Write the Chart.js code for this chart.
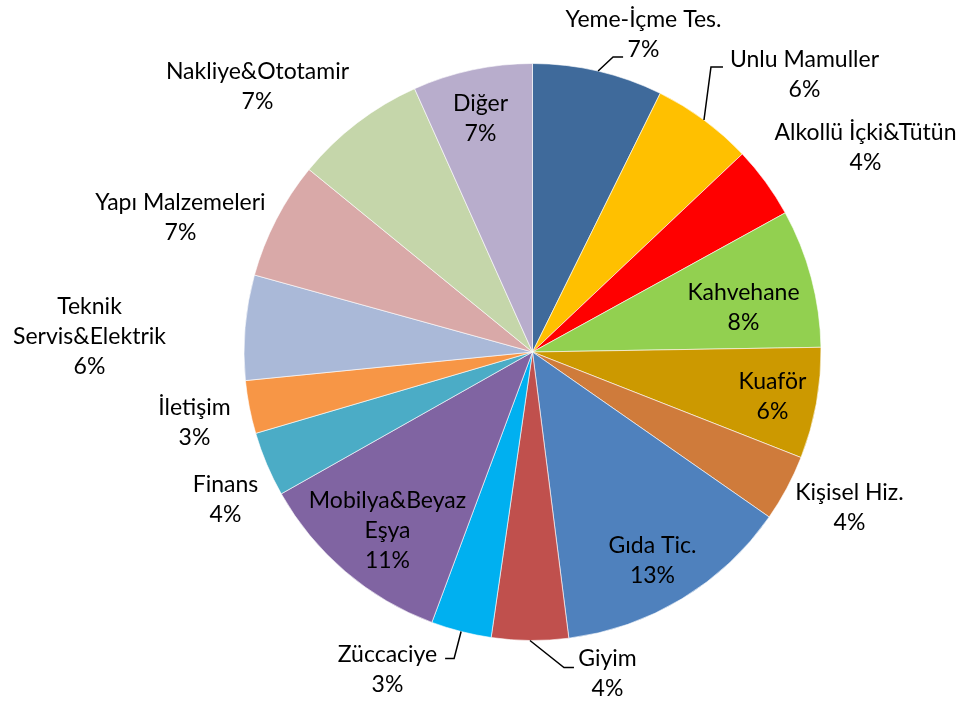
<!DOCTYPE html>
<html>
<head>
<meta charset="utf-8">
<script src="https://cdn.jsdelivr.net/npm/chart.js@4.4.0/dist/chart.umd.min.js"></script>
<style>
  html, body { margin: 0; padding: 0; background: #fff; }
  #wrap { width: 965px; height: 701px; }
</style>
</head>
<body>
<div id="wrap"><canvas id="chart" width="965" height="701"></canvas></div>
<script>
// sectors, clockwise from 12 o'clock
const categories = [
  'Yeme-İçme Tes.', 'Unlu Mamuller', 'Alkollü İçki&Tütün', 'Kahvehane', 'Kuaför',
  'Kişisel Hiz.', 'Gıda Tic.', 'Giyim', 'Züccaciye', 'Mobilya&Beyaz\nEşya',
  'Finans', 'İletişim', 'Teknik\nServis&Elektrik', 'Yapı Malzemeleri',
  'Nakliye&Ototamir', 'Diğer'
];
// share of each sector (%)
const shares = [7.3, 5.66, 4.03, 7.75, 6.22, 3.73, 13.3, 4.3, 3.38, 11.15, 3.63, 2.97, 5.88, 6.6, 7.4, 6.7];

const sliceColors = [
  '#3F6A9B', '#FFC000', '#FF0000', '#92D050', '#CC9900', '#CF7B3B', '#4F81BD', '#C0504D',
  '#00B0F0', '#8064A2', '#4BACC6', '#F79646', '#AAB9D8', '#D9A9A8', '#C5D6AA', '#B8ADCC'
];

// label block centre, relative to the pie centre
const labelOffsets = [
  [111, -317], [272, -277], [333, -204], [211, -44], [240, 45], [317, 156],
  [120, 209], [75, 322], [-145, 318], [-145, 179], [-307, 148], [-338, 71],
  [-443, -15], [-352, -134], [-275, -265], [-52, -233]
];
// leader lines: [elbow dx, elbow dy, horizontal run] from the slice edge
const leaders = {0: [15, -14, 10], 1: [7, -53, 12], 7: [34, 27, 10], 8: [-7, 27, -9]};

const FONT = '23px Lato';
const LINE_H = 30;

const sliceLabels = {
  id: 'sliceLabels',
  afterDatasetsDraw(chart) {
    const ctx = chart.ctx;
    const meta = chart.getDatasetMeta(0);
    const total = shares.reduce((a, b) => a + b, 0);
    ctx.save();
    ctx.font = FONT;
    ctx.fillStyle = '#000';
    ctx.strokeStyle = '#000';
    ctx.lineWidth = 1.5;
    ctx.textAlign = 'center';
    ctx.textBaseline = 'middle';
    meta.data.forEach((arc, i) => {
      const p = arc.getProps(['x', 'y', 'startAngle', 'endAngle', 'outerRadius'], true);
      const lines = categories[i].split('\n').concat(Math.round(shares[i] / total * 100) + '%');
      const cx = p.x + labelOffsets[i][0];
      const cy = p.y + labelOffsets[i][1];
      const top = cy - (lines.length - 1) * LINE_H / 2;
      lines.forEach((t, k) => ctx.fillText(t, cx, top + k * LINE_H));

      const lead = leaders[i];
      if (lead) {
        const mid = (p.startAngle + p.endAngle) / 2;
        const ax = p.x + Math.cos(mid) * p.outerRadius;
        const ay = p.y + Math.sin(mid) * p.outerRadius;
        ctx.beginPath();
        ctx.moveTo(ax, ay);
        ctx.lineTo(ax + lead[0], ay + lead[1]);
        ctx.lineTo(ax + lead[0] + lead[2], ay + lead[1]);
        ctx.stroke();
      }
    });
    ctx.restore();
  }
};

new Chart(document.getElementById('chart'), {
  type: 'pie',
  data: {
    labels: categories,
    datasets: [{
      data: shares,
      backgroundColor: sliceColors,
      borderColor: 'rgba(255,255,255,0.6)',
      borderWidth: 1
    }]
  },
  options: {
    responsive: false,
    animation: false,
    layout: { padding: { left: 100, right: 0, top: 63, bottom: 60 } },
    plugins: {
      legend: { display: false },
      tooltip: { enabled: false }
    }
  },
  plugins: [sliceLabels]
});
</script>
</body>
</html>
